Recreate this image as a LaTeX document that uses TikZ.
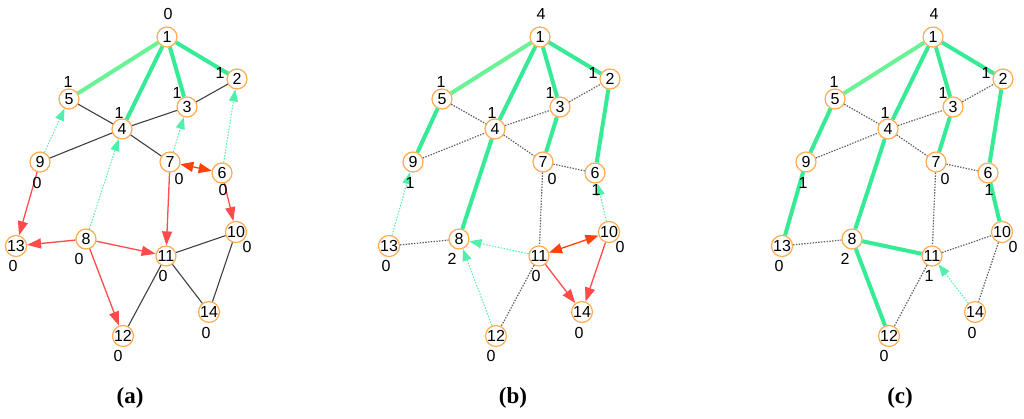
\documentclass[tikz,border=0pt]{standalone}
\usepackage{fontspec}
\setmainfont{Liberation Sans}
\newfontfamily\capfont{Liberation Serif}
\usetikzlibrary{arrows.meta}
\definecolor{ng}{RGB}{55,235,150}
\definecolor{ngl}{RGB}{105,242,150}
\definecolor{nred}{RGB}{255,75,75}
\definecolor{norg}{RGB}{255,65,10}
\definecolor{ncirc}{RGB}{255,172,80}
\definecolor{ndot}{RGB}{95,95,95}
\definecolor{gdot}{RGB}{80,240,170}
\tikzset{
 vtx/.style={circle,draw=ncirc,fill=white,line width=1.2pt,minimum size=20pt,inner sep=0pt,font=\fontsize{16}{16}\selectfont},
 lab/.style={font=\fontsize{16}{16}\selectfont,inner sep=0pt},
 tree/.style={ng,line width=4pt},
 treel/.style={ngl,line width=4pt},
 plain/.style={draw=black!75,line width=1.1pt},
 dotedge/.style={draw=ndot,line width=1.2pt,dash pattern=on 1.4pt off 1.4pt},
 gdarr/.style={draw=gdot,line width=1pt,dash pattern=on 1.5pt off 1.5pt,-{Triangle[length=12pt,width=9pt]}},
 rarr/.style={draw=nred,line width=1.3pt,-{Triangle[length=14pt,width=10pt]}},
 oarr/.style={draw=norg,line width=1.3pt,{Triangle[length=13pt,width=10pt]}-{Triangle[length=13pt,width=10pt]}},
 capt/.style={font=\capfont\bfseries\fontsize{23}{26}\selectfont}
}
\def\vlist{1/167/37/1/-23, 2/237/79/-17/-6, 3/187/107/-10/-14,
   4/122/129/-3/-16, 5/69/99/-1/-17, 6/222/173/1/17, 7/170/162/9/17,
   8/86/239/-7/20, 9/40/162/-3/21, 10/236/232/11/15, 11/166/256/-3/20,
   12/123/336/-5/20, 13/16/246/-3/20, 14/209/312/-3/21}
\newcommand\vertices[2]{% #1 prefix, #2 xshift
 \foreach \n/\x/\y/\dx/\dy in \vlist{
   \node[vtx] (#1\n) at (\x+#2,\y) {\n};
 }}
\newcommand\vlabels[3]{% #1 prefix, #2 xshift, #3 label array
 \foreach \n/\x/\y/\dx/\dy in \vlist{
   \pgfmathtruncatemacro\lv{#3[\n-1]}
   \node[lab] (#1\n l) at (\x+#2+\dx,\y+\dy) {\lv};
 }}
\def\labsA{{0,1,1,1,1,0,0,0,0,0,0,0,0,0}}
\def\labsB{{4,1,1,1,1,1,0,2,1,0,0,0,0,0}}
\def\labsC{{4,1,1,1,1,1,0,2,1,0,1,0,0,0}}
\begin{document}
\begin{tikzpicture}[x=1pt,y=-1pt]
\useasboundingbox (0,0) rectangle (1024,419);
\vertices{a}{0}
\vertices{b}{373}
\vertices{c}{766}
% panel a
\draw[treel] (a1)--(a5);
\draw[tree] (a1)--(a4);
\draw[tree] (a1)--(a3);
\draw[tree] (a1)--(a2);
\draw[plain] (a5)--(a4);
\draw[plain] (a4)--(a7);
\draw[plain] (a4)--(a3);
\draw[plain] (a3)--(a2);
\draw[plain] (a9)--(a4);
\draw[plain] (a11)--(a10);
\draw[plain] (a11)--(a12);
\draw[plain] (a11)--(a14);
\draw[plain] (a10)--(a14);
\draw[gdarr] (a9)--(a5);
\draw[gdarr] (a8)--(a4);
\draw[gdarr] (a7)--(a3);
\draw[gdarr] (a6)--(a2);
\draw[rarr] (a9)--(a13);
\draw[rarr] (a8)--(a13);
\draw[rarr] (a8)--(a11);
\draw[rarr] (a8)--(a12);
\draw[rarr] (a7)--(a11);
\draw[rarr] (a6)--(a10);
\draw[oarr] (a7)--(a6);
% panel b
\draw[treel] (b1)--(b5);
\draw[tree] (b1)--(b4);
\draw[tree] (b1)--(b3);
\draw[tree] (b1)--(b2);
\draw[tree] (b5)--(b9);
\draw[tree] (b4)--(b8);
\draw[tree] (b3)--(b7);
\draw[tree] (b2)--(b6);
\draw[dotedge] (b5)--(b4);
\draw[dotedge] (b4)--(b3);
\draw[dotedge] (b3)--(b2);
\draw[dotedge] (b9)--(b4);
\draw[dotedge] (b4)--(b7);
\draw[dotedge] (b7)--(b6);
\draw[dotedge] (b7)--(b11);
\draw[dotedge] (b13)--(b8);
\draw[dotedge] (b11)--(b12);
\draw[gdarr] (b13)--(b9);
\draw[gdarr] (b10)--(b6);
\draw[gdarr] (b11)--(b8);
\draw[gdarr] (b12)--(b8);
\draw[rarr] (b11)--(b14);
\draw[rarr] (b10)--(b14);
\draw[oarr] (b11)--(b10);
% panel c
\draw[treel] (c1)--(c5);
\draw[tree] (c1)--(c4);
\draw[tree] (c1)--(c3);
\draw[tree] (c1)--(c2);
\draw[tree] (c5)--(c9);
\draw[tree] (c9)--(c13);
\draw[tree] (c4)--(c8);
\draw[tree] (c3)--(c7);
\draw[tree] (c2)--(c6);
\draw[tree] (c6)--(c10);
\draw[tree] (c8)--(c11);
\draw[tree] (c8)--(c12);
\draw[dotedge] (c5)--(c4);
\draw[dotedge] (c4)--(c3);
\draw[dotedge] (c3)--(c2);
\draw[dotedge] (c9)--(c4);
\draw[dotedge] (c4)--(c7);
\draw[dotedge] (c7)--(c6);
\draw[dotedge] (c7)--(c11);
\draw[dotedge] (c13)--(c8);
\draw[dotedge] (c11)--(c12);
\draw[dotedge] (c11)--(c10);
\draw[dotedge] (c10)--(c14);
\draw[gdarr] (c14)--(c11);
% labels
\vlabels{a}{0}{\labsA}
\vlabels{b}{373}{\labsB}
\vlabels{c}{766}{\labsC}
% captions
\node[capt] (capa) at (130,398) {(a)};
\node[capt] (capb) at (513,398) {(b)};
\node[capt] (capc) at (900,398) {(c)};
\end{tikzpicture}
\end{document}
